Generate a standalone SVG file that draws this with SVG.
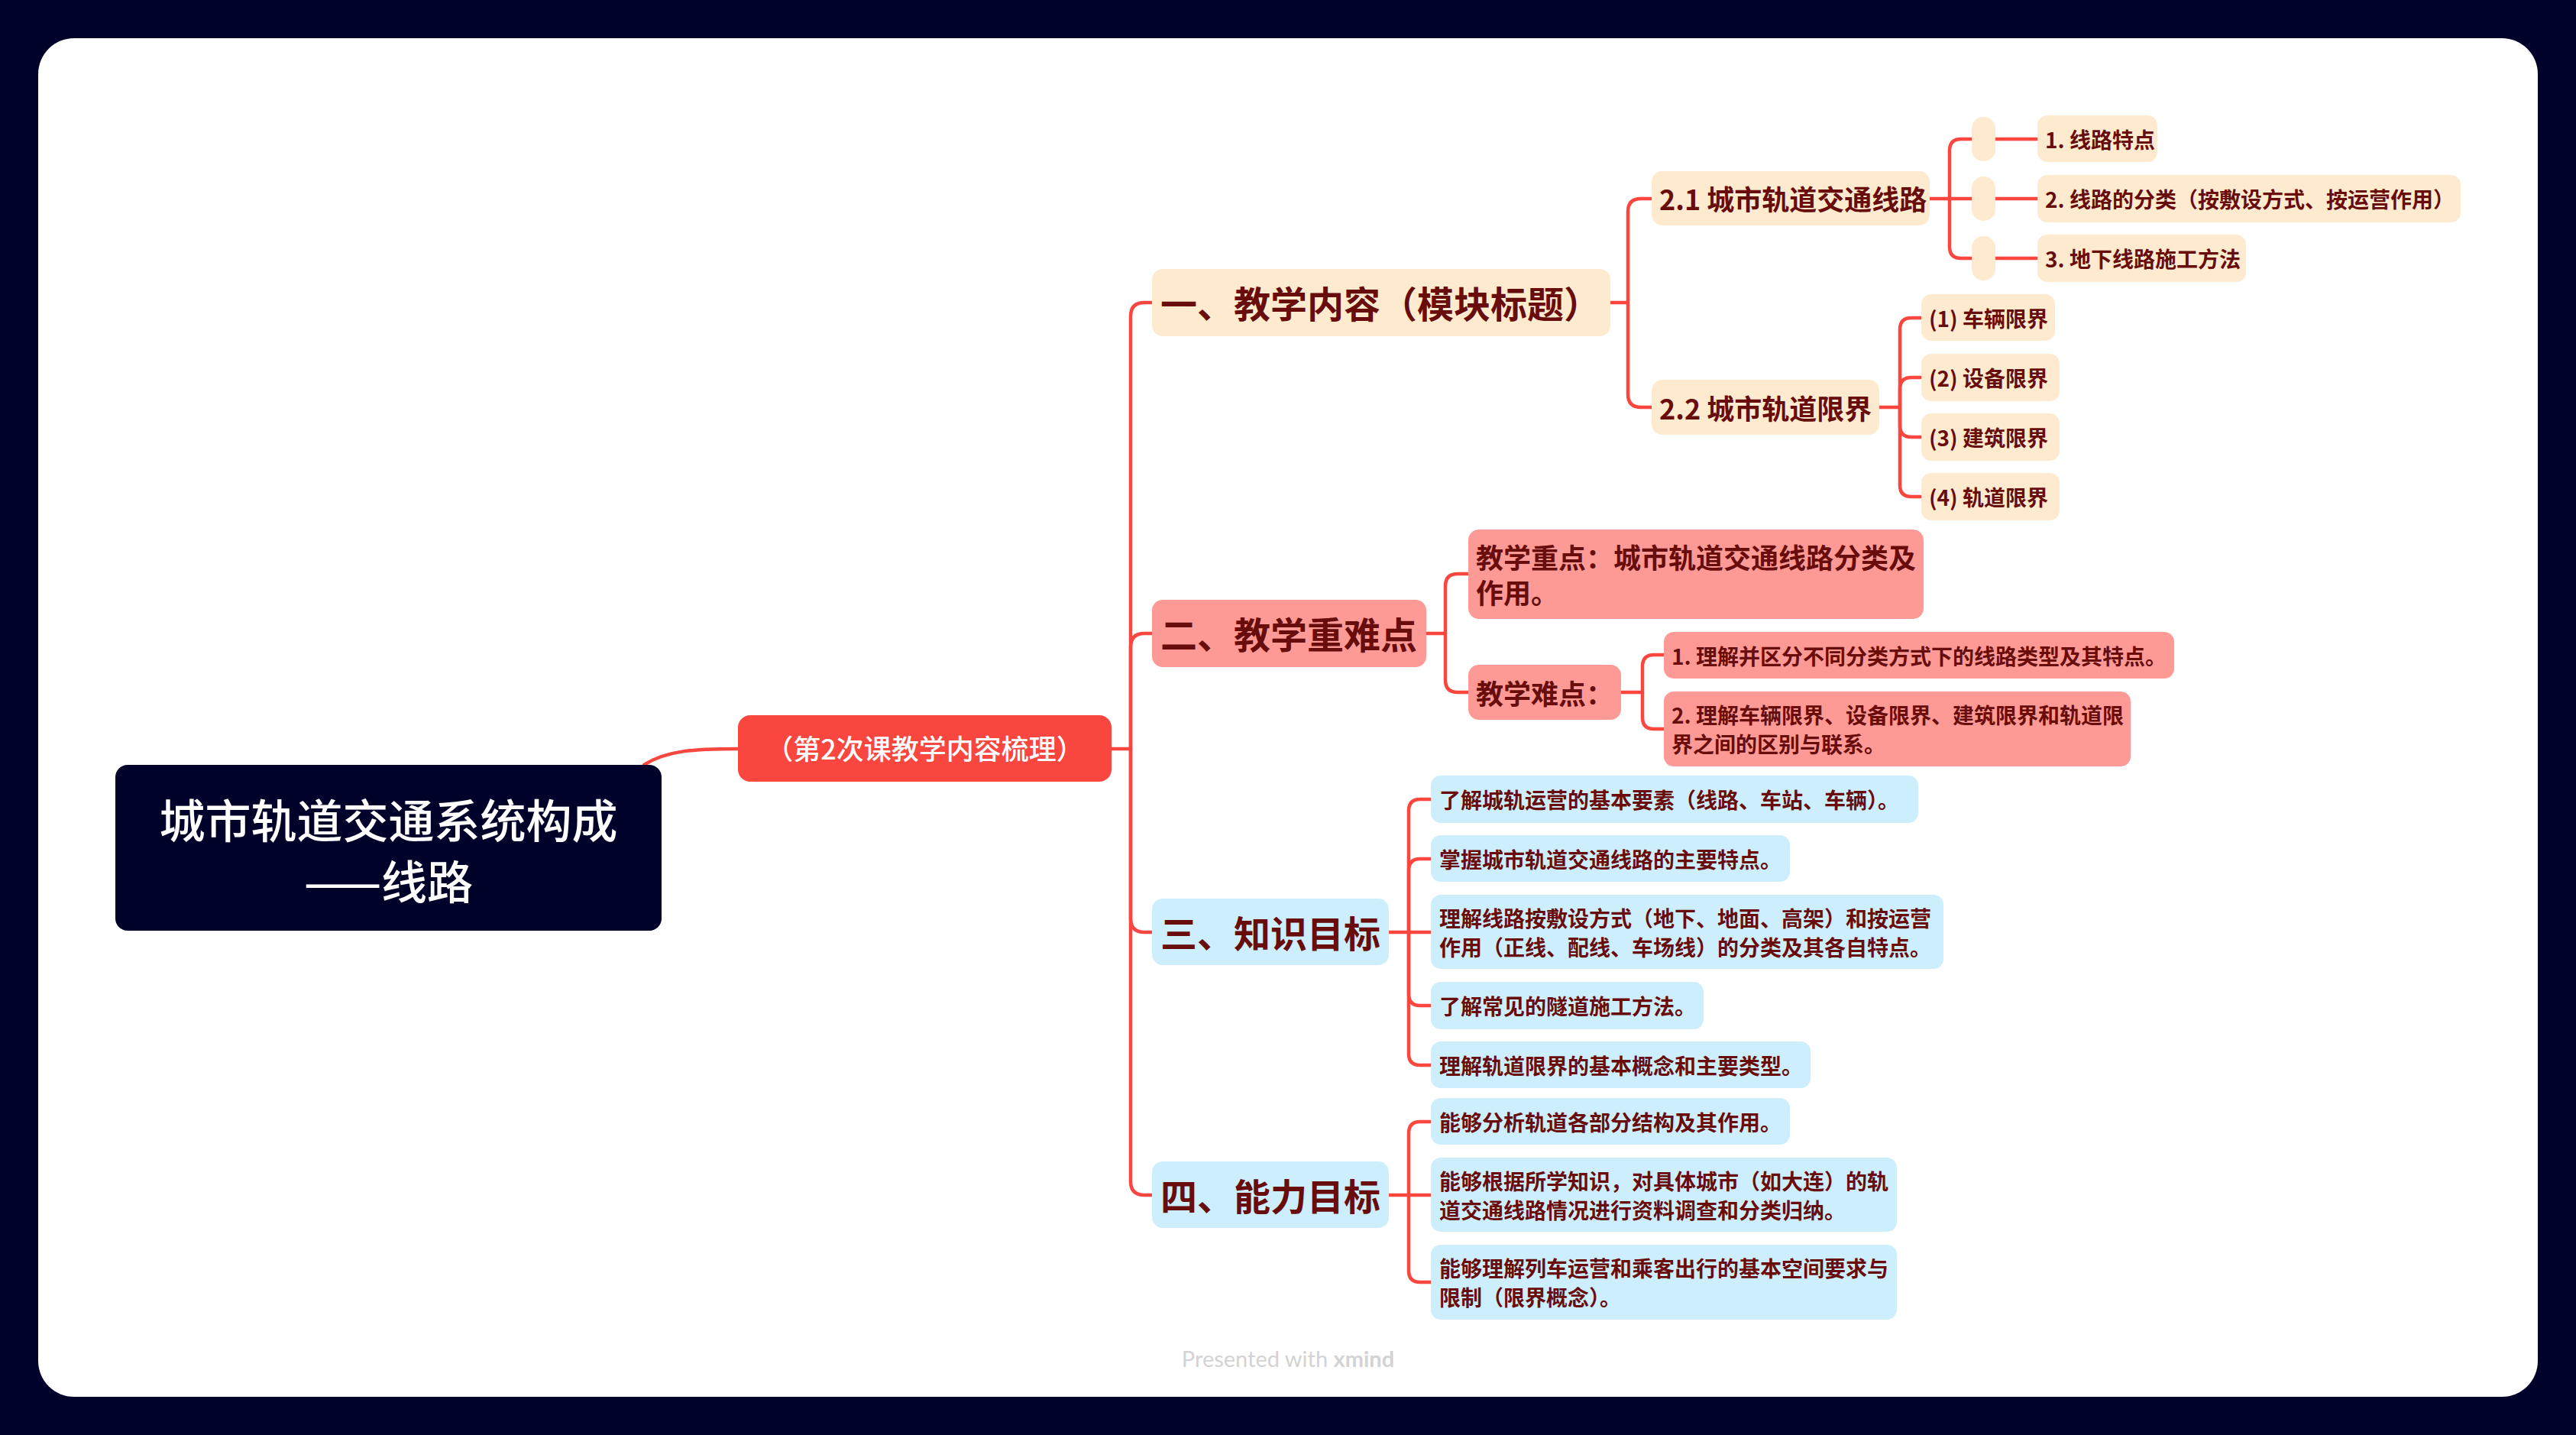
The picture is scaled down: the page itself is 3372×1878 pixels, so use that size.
<svg xmlns="http://www.w3.org/2000/svg" width="3372" height="1878" viewBox="0 0 3372 1878">
<style>
.t{font-family:"Noto Sans CJK SC","Noto Sans",sans-serif;font-weight:700;fill:#680C0C}
.l1{font-size:48px}
.l2{font-size:36px}
.l3{font-size:28px}
.peach{fill:#FEEBCF}
.pink{fill:#FD9A95}
.blue{fill:#CDEEFC}
.con path{fill:none;stroke:#F9463F;stroke-width:4.5;stroke-linecap:round;stroke-linejoin:round}
</style>
<rect x="0" y="0" width="3372" height="1878" fill="#000229"/>
<rect x="50" y="50" width="3272" height="1778" rx="47" fill="#FFFFFF"/>

<g id="connectors" class="con">
<path d="M843,1001 C872,982 910,980 966,980"/>
<path d="M1455,980 H1480 V414 Q1480,396 1498,396 H1508"/>
<path d="M1480,980 V847 Q1480,829 1498,829 H1508"/>
<path d="M1480,980 V1202 Q1480,1220 1498,1220 H1508"/>
<path d="M1480,980 V1546 Q1480,1564 1498,1564 H1508"/>
<path d="M2107,396 H2131 V277 Q2131,260 2148,260 H2162"/>
<path d="M2131,396 V516 Q2131,533 2148,533 H2162"/>
<path d="M2526,260 H2581"/>
<path d="M2552,260 V197 Q2552,182 2567,182 H2581"/>
<path d="M2552,260 V323 Q2552,338 2567,338 H2581"/>
<path d="M2612,182 H2667"/>
<path d="M2612,260 H2667"/>
<path d="M2612,338 H2667"/>
<path d="M2460,533 H2487 V431 Q2487,416 2502,416 H2515"/>
<path d="M2487,533 V509 Q2487,494 2502,494 H2515"/>
<path d="M2487,533 V557 Q2487,572 2502,572 H2515"/>
<path d="M2487,533 V635 Q2487,650 2502,650 H2515"/>
<path d="M1866,829 H1892 V767 Q1892,751 1908,751 H1922"/>
<path d="M1892,829 V890 Q1892,906 1908,906 H1922"/>
<path d="M2122,906 H2150 V872 Q2150,857 2165,857 H2178"/>
<path d="M2150,906 V939 Q2150,954 2165,954 H2178"/>
<path d="M1818,1220 H1844 V1061 Q1844,1046 1859,1046 H1873"/>
<path d="M1844,1220 V1139 Q1844,1124 1859,1124 H1873"/>
<path d="M1844,1220 H1873"/>
<path d="M1844,1220 V1301 Q1844,1316 1859,1316 H1873"/>
<path d="M1844,1220 V1379 Q1844,1394 1859,1394 H1873"/>
<path d="M1818,1564 H1844 V1483 Q1844,1468 1859,1468 H1873"/>
<path d="M1844,1564 H1873"/>
<path d="M1844,1564 V1663 Q1844,1678 1859,1678 H1873"/>
</g>

<g id="root">
<rect x="151" y="1001" width="715" height="217" rx="16" fill="#000229"/>
<text x="508.5" y="1097" text-anchor="middle" font-family="Noto Sans CJK SC, sans-serif" font-size="60" font-weight="500" fill="#FFFFFF">城市轨道交通系统构成</text>
<text x="508.5" y="1177" text-anchor="middle" font-family="Noto Sans CJK SC, sans-serif" font-size="60" font-weight="500" fill="#FFFFFF">——线路</text>
</g>

<g id="subtitle">
<rect x="966" y="936" width="489" height="87" rx="16" fill="#F9463F"/>
<text x="1210.5" y="994" text-anchor="middle" font-family="Noto Sans CJK SC, sans-serif" font-size="36" font-weight="500" fill="#FFFFFF">（第2次课教学内容梳理）</text>
</g>

<g id="n1">
<rect class="peach" x="1508" y="352" width="600" height="88" rx="14"/>
<text class="t l1" x="1519" y="416">一、教学内容（模块标题）</text>
</g>
<g id="n1-1">
<rect class="peach" x="2162" y="224" width="364" height="71" rx="14"/>
<text class="t l2" x="2172" y="275">2.1 城市轨道交通线路</text>
</g>
<g id="n1-1-e1"><rect class="peach" x="2581" y="153" width="31" height="58" rx="15"/></g>
<g id="n1-1-e2"><rect class="peach" x="2581" y="231" width="31" height="58" rx="15"/></g>
<g id="n1-1-e3"><rect class="peach" x="2581" y="309" width="31" height="58" rx="15"/></g>
<g id="n1-1-1">
<rect class="peach" x="2667" y="151" width="157" height="61" rx="13"/>
<text class="t l3" x="2677" y="194">1. 线路特点</text>
</g>
<g id="n1-1-2">
<rect class="peach" x="2667" y="229" width="554" height="62" rx="13"/>
<text class="t l3" x="2677" y="272">2. 线路的分类（按敷设方式、按运营作用）</text>
</g>
<g id="n1-1-3">
<rect class="peach" x="2667" y="307" width="273" height="62" rx="13"/>
<text class="t l3" x="2677" y="350">3. 地下线路施工方法</text>
</g>
<g id="n1-2">
<rect class="peach" x="2162" y="497" width="298" height="72" rx="14"/>
<text class="t l2" x="2172" y="548.5">2.2 城市轨道限界</text>
</g>
<g id="n1-2-1">
<rect class="peach" x="2515" y="385" width="175" height="61" rx="13"/>
<text class="t l3" x="2525" y="428">(1) 车辆限界</text>
</g>
<g id="n1-2-2">
<rect class="peach" x="2515" y="463" width="181" height="62" rx="13"/>
<text class="t l3" x="2525" y="506">(2) 设备限界</text>
</g>
<g id="n1-2-3">
<rect class="peach" x="2515" y="541" width="181" height="62" rx="13"/>
<text class="t l3" x="2525" y="584">(3) 建筑限界</text>
</g>
<g id="n1-2-4">
<rect class="peach" x="2515" y="619" width="181" height="62" rx="13"/>
<text class="t l3" x="2525" y="662">(4) 轨道限界</text>
</g>

<g id="n2">
<rect class="pink" x="1508" y="785" width="359" height="88" rx="14"/>
<text class="t l1" x="1519" y="849">二、教学重难点</text>
</g>
<g id="n2-1">
<rect class="pink" x="1922" y="693" width="596" height="117" rx="14"/>
<text class="t l2" x="1932" y="744">教学重点：城市轨道交通线路分类及</text>
<text class="t l2" x="1932" y="790">作用。</text>
</g>
<g id="n2-2">
<rect class="pink" x="1922" y="870" width="200" height="72" rx="14"/>
<text class="t l2" x="1932" y="921.5">教学难点：</text>
</g>
<g id="n2-2-1">
<rect class="pink" x="2178" y="827" width="668" height="61" rx="13"/>
<text class="t l3" x="2188" y="870">1. 理解并区分不同分类方式下的线路类型及其特点。</text>
</g>
<g id="n2-2-2">
<rect class="pink" x="2178" y="905" width="611" height="98" rx="13"/>
<text class="t l3" x="2188" y="947">2. 理解车辆限界、设备限界、建筑限界和轨道限</text>
<text class="t l3" x="2188" y="985">界之间的区别与联系。</text>
</g>

<g id="n3">
<rect class="blue" x="1508" y="1176" width="310" height="87" rx="14"/>
<text class="t l1" x="1519" y="1240">三、知识目标</text>
</g>
<g id="n3-1">
<rect class="blue" x="1873" y="1015" width="638" height="62" rx="13"/>
<text class="t l3" x="1884" y="1058">了解城轨运营的基本要素（线路、车站、车辆）。</text>
</g>
<g id="n3-2">
<rect class="blue" x="1873" y="1093" width="470" height="61" rx="13"/>
<text class="t l3" x="1884" y="1136">掌握城市轨道交通线路的主要特点。</text>
</g>
<g id="n3-3">
<rect class="blue" x="1873" y="1171" width="671" height="97" rx="13"/>
<text class="t l3" x="1884" y="1213">理解线路按敷设方式（地下、地面、高架）和按运营</text>
<text class="t l3" x="1884" y="1251">作用（正线、配线、车场线）的分类及其各自特点。</text>
</g>
<g id="n3-4">
<rect class="blue" x="1873" y="1285" width="357" height="62" rx="13"/>
<text class="t l3" x="1884" y="1328">了解常见的隧道施工方法。</text>
</g>
<g id="n3-5">
<rect class="blue" x="1873" y="1363" width="497" height="61" rx="13"/>
<text class="t l3" x="1884" y="1406">理解轨道限界的基本概念和主要类型。</text>
</g>

<g id="n4">
<rect class="blue" x="1508" y="1520" width="310" height="87" rx="14"/>
<text class="t l1" x="1519" y="1584">四、能力目标</text>
</g>
<g id="n4-1">
<rect class="blue" x="1873" y="1437" width="470" height="61" rx="13"/>
<text class="t l3" x="1884" y="1480">能够分析轨道各部分结构及其作用。</text>
</g>
<g id="n4-2">
<rect class="blue" x="1873" y="1515" width="610" height="97" rx="13"/>
<text class="t l3" x="1884" y="1557">能够根据所学知识，对具体城市（如大连）的轨</text>
<text class="t l3" x="1884" y="1595">道交通线路情况进行资料调查和分类归纳。</text>
</g>
<g id="n4-3">
<rect class="blue" x="1873" y="1629" width="610" height="98" rx="13"/>
<text class="t l3" x="1884" y="1671">能够理解列车运营和乘客出行的基本空间要求与</text>
<text class="t l3" x="1884" y="1709">限制（限界概念）。</text>
</g>

<text x="1686" y="1789" text-anchor="middle" font-family="Lato, 'Open Sans', sans-serif" font-size="29" fill="#D3D3D3">Presented with <tspan font-weight="700">xmind</tspan></text>
</svg>
